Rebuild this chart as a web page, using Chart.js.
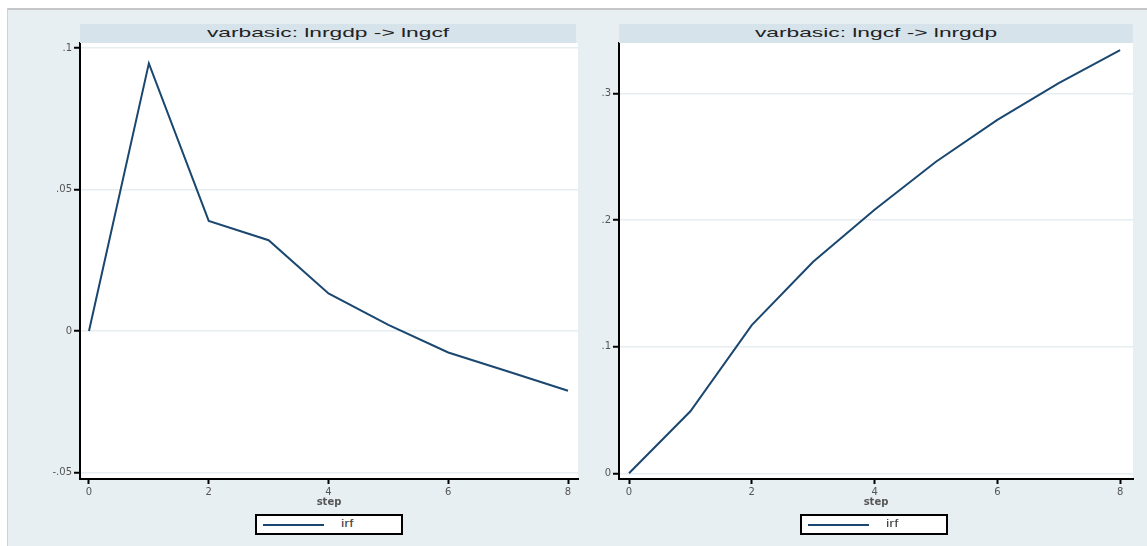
<!DOCTYPE html>
<html>
<head>
<meta charset="utf-8">
<script src="https://cdn.jsdelivr.net/npm/chart.js@4"></script>
<style>
  html, body { margin:0; padding:0; background:#ffffff; }
  body { width:1147px; height:546px; position:relative; overflow:hidden; font-family:"Liberation Sans", Arial, sans-serif; }
  #frame { position:absolute; left:7px; top:8px; width:1140px; height:538px; background:#e8eff2;
           border-top:2px solid #c4c6c7; border-left:1px solid #cfd3d4; box-sizing:border-box; }
  .cv { position:absolute; top:0; }
  .tbar { position:absolute; top:24px; height:19px; background:#d7e3ea; overflow:hidden; }
  .tbar span { position:absolute; left:50%; top:1px; white-space:nowrap; font-size:13px; color:#222;
               transform:translateX(-50%) scaleX(1.75); transform-origin:center; }
  .leg { position:absolute; top:514px; width:148px; height:21px; border:2px solid #000; background:#fff; box-sizing:border-box; }
  .leg .ln { position:absolute; left:6px; top:8px; width:61px; height:2px; background:#1a476f; }
  .leg .tx { position:absolute; left:84px; top:2px; font-size:10px; color:#444; transform:scaleX(1.5); transform-origin:left; }
</style>
</head>
<body>
<div id="frame"></div>
<canvas id="c1" class="cv" width="590" height="546" style="left:0px"></canvas>
<canvas id="c2" class="cv" width="569" height="546" style="left:578px"></canvas>
<div class="tbar" style="left:80px;width:496px"><span>varbasic: lnrgdp -&gt; lngcf</span></div>
<div class="tbar" style="left:619px;width:514px"><span>varbasic: lngcf -&gt; lnrgdp</span></div>
<div class="leg" style="left:255px"><div class="ln"></div><div class="tx">irf</div></div>
<div class="leg" style="left:800px"><div class="ln"></div><div class="tx">irf</div></div>
<script>
// ---- data ----
const steps = [0, 1, 2, 3, 4, 5, 6, 7, 8];
const irfLnrgdpToLngcf = [0, 0.0946, 0.0389, 0.0321, 0.0133, 0.0022, -0.0076, -0.0143, -0.0211];
const irfLngcfToLnrgdp = [0, 0.049, 0.117, 0.167, 0.208, 0.246, 0.279, 0.308, 0.334];
const xTickValues = [0, 2, 4, 6, 8];
const leftYTicks = [-0.05, 0, 0.05, 0.1];
const rightYTicks = [0, 0.1, 0.2, 0.3];
const seriesLabel = 'irf';
const xTitle = 'step';

function fmt(v) {
  if (Math.abs(v) < 1e-12) return '0';
  const s = Math.abs(v).toString().replace(/^0/, '');
  return (v < 0 ? '-' : '') + s;
}

function makeChart(id, ys, yTicks, yMin, yMax, xMin, xMax, yAxisWidth, padRight) {
  const pts = steps.map((s, i) => ({ x: s, y: ys[i] }));
  const tickFont = { family: '"DejaVu Sans", sans-serif', size: 10 };
  return new Chart(document.getElementById(id), {
    type: 'line',
    data: { datasets: [{ label: seriesLabel, data: pts, borderColor: '#1a476f', borderWidth: 2,
                         pointRadius: 0, tension: 0, fill: false }] },
    options: {
      responsive: false, animation: false, devicePixelRatio: 1,
      layout: { padding: { left: 0, top: 43, right: padRight, bottom: 0 } },
      plugins: { legend: { display: false }, tooltip: { enabled: false }, title: { display: false } },
      scales: {
        x: {
          type: 'linear', min: xMin, max: xMax,
          afterBuildTicks: s => { s.ticks = xTickValues.map(v => ({ value: v })); },
          afterFit: s => { s.height = 67; },
          ticks: { callback: v => fmt(v), font: tickFont, color: '#555', padding: 2, maxRotation: 0, autoSkip: false },
          grid: { drawOnChartArea: false, drawTicks: true, tickLength: 5, tickColor: '#000', tickWidth: 2 },
          border: { display: true, color: '#000', width: 2 },
          title: { display: true, text: xTitle, color: '#555', font: { family: '"DejaVu Sans", sans-serif', size: 10, weight: 'bold' },
                   padding: { top: 0, bottom: 38 } }
        },
        y: {
          type: 'linear', min: yMin, max: yMax,
          afterBuildTicks: s => { s.ticks = yTicks.map(v => ({ value: v })); },
          afterFit: s => { s.width = yAxisWidth; },
          ticks: { callback: v => fmt(v), font: tickFont, color: '#555', padding: 2, autoSkip: false },
          grid: { color: '#e6eef1', lineWidth: 1.5, drawTicks: true, tickLength: 6, tickColor: '#000', tickWidth: 2 },
          border: { display: true, color: '#000', width: 2 }
        }
      }
    },
    plugins: [{
      id: 'whiteArea',
      beforeDraw(chart) {
        const { ctx, chartArea: a } = chart;
        ctx.save(); ctx.fillStyle = '#ffffff';
        ctx.fillRect(a.left, a.top, a.right - a.left, a.bottom - a.top);
        ctx.restore();
      }
    }]
  });
}

makeChart('c1', irfLnrgdpToLngcf, leftYTicks, -0.0523, 0.1018, -0.15, 8.167, 80, 12);
makeChart('c2', irfLngcfToLnrgdp, rightYTicks, -0.0045, 0.3397, -0.163, 8.21, 41, 14);
</script>
</body>
</html>
